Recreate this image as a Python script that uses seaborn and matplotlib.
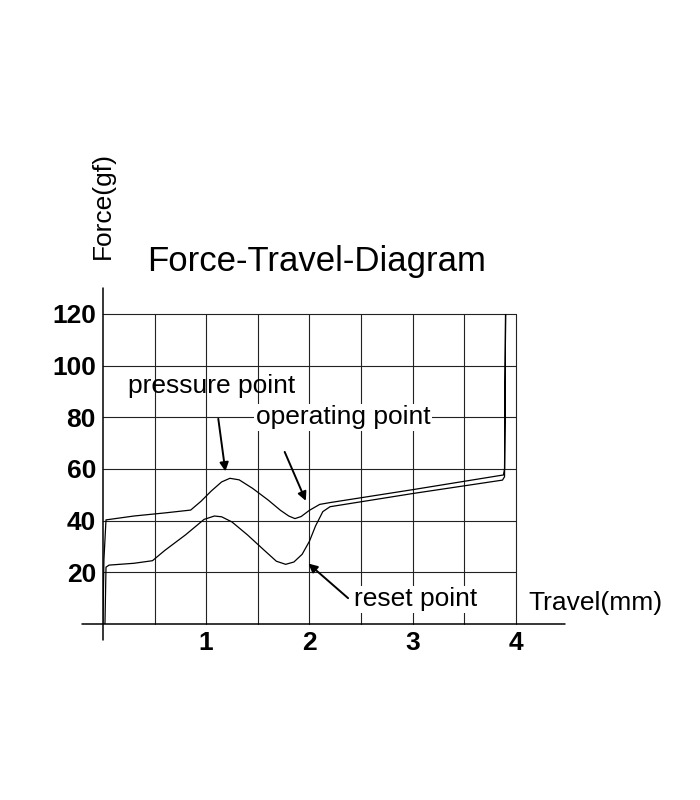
import matplotlib
matplotlib.use("Agg")
import matplotlib.pyplot as plt
import seaborn as sns
import pandas as pd

sns.set_theme(style="white")
plt.rcParams['font.family'] = ['Liberation Sans', 'DejaVu Sans']
plt.rcParams['text.color'] = 'black'

# closed force-travel loop (press then release)
travel = [0.0, 0.01, 0.03, 0.3, 0.6, 0.85, 0.95, 1.05, 1.15, 1.23, 1.32, 1.45, 1.6, 1.72, 1.8, 1.86, 1.92, 2.0, 2.1, 2.2,
          3.0, 3.88, 3.89, 3.9, 3.89, 3.87, 3.0, 2.2, 2.13, 2.06, 2.0, 1.93, 1.85, 1.77, 1.68, 1.55, 1.4, 1.25, 1.15, 1.08, 0.98,
          0.8, 0.6, 0.48, 0.3, 0.06, 0.03, 0.02]
force = [0.0, 25.0, 40.3, 41.8, 43.0, 44.1, 47.5, 51.5, 55.0, 56.4, 55.8, 52.5, 48.0, 44.0, 41.8, 40.8, 41.6, 44.0, 46.3, 47.0,
         52.0, 57.7, 60.0, 120.0, 57.0, 55.7, 50.5, 45.4, 43.5, 38.0, 32.0, 27.0, 24.0, 23.1, 24.3, 29.0, 34.5, 39.5, 41.5, 41.8, 40.5,
         34.5, 28.5, 24.5, 23.5, 22.8, 22.0, 0.0]
x_ticks = [1, 2, 3, 4]
y_ticks = [20, 40, 60, 80, 100, 120]

df = pd.DataFrame({"travel": travel, "force": force})
fig = plt.figure(figsize=(7, 8), dpi=100)
ax = fig.add_axes([0.147, 0.22, 0.59, 0.3875])
for s in ax.spines.values():
    s.set_visible(False)
ax.set_xlim(0, 4)
ax.set_ylim(0, 120)
for xv in [0.5, 1, 1.5, 2, 2.5, 3, 3.5, 4]:
    ax.plot([xv, xv], [0, 120], color="#222222", lw=0.8, zorder=1, clip_on=False)
for yv in y_ticks:
    ax.plot([0, 4], [yv, yv], color="#222222", lw=0.8, zorder=1, clip_on=False)
sns.lineplot(data=df, x="travel", y="force", sort=False, estimator=None, color="black", lw=0.9, ax=ax, zorder=3)
ax.plot([-0.2, 4.48], [0, 0], color="black", lw=1.1, clip_on=False)
ax.plot([0, 0], [-6, 130], color="black", lw=1.1, clip_on=False)

ax.set_xticks(x_ticks)
ax.set_yticks(y_ticks)
ax.set_xticklabels([str(v) for v in x_ticks], fontsize=19, fontweight="heavy", color="black")
ax.set_yticklabels([str(v) for v in y_ticks], fontsize=19, fontweight="heavy", color="black")
ax.tick_params(length=0, pad=5)
ax.set_xlabel("")
ax.set_ylabel("")

ax.text(2.07, 140.5, "Force-Travel-Diagram", fontsize=25, ha="center", va="center", clip_on=False)
ax.text(0.0, 162, "Force(gf)", fontsize=19, rotation=90, ha="center", va="center", clip_on=False)
ax.text(4.12, 8, "Travel(mm)", fontsize=19, ha="left", va="center", clip_on=False)

arrow = dict(arrowstyle="-|>", color="black", lw=1.4, mutation_scale=13)
ax.annotate("", xy=(1.19, 58), xytext=(1.114, 80.5), arrowprops=arrow)
ax.text(0.24, 92, "pressure point", fontsize=19, ha="left", va="center")
ax.text(1.48, 80, "operating point", fontsize=19, ha="left", va="center",
        bbox=dict(facecolor="white", edgecolor="none", pad=1), zorder=4)
ax.annotate("", xy=(1.976, 46.7), xytext=(1.75, 67.6), arrowprops=arrow)
ax.annotate("", xy=(1.97, 24.1), xytext=(2.395, 9.3), arrowprops=arrow)
ax.text(2.43, 9.5, "reset point", fontsize=19, ha="left", va="center",
        bbox=dict(facecolor="white", edgecolor="none", pad=1), zorder=4)

fig.savefig("out.png", dpi=100)
